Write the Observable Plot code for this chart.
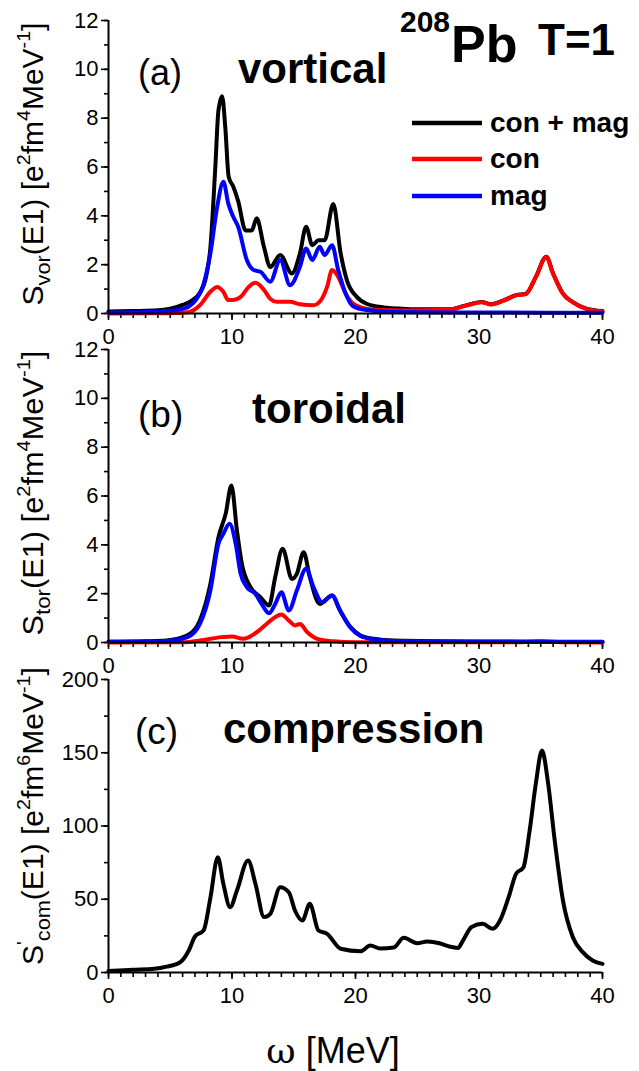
<!DOCTYPE html>
<html>
<head>
<meta charset="utf-8">
<script src="https://cdn.jsdelivr.net/npm/d3@7"></script>
<script src="https://cdn.jsdelivr.net/npm/@observablehq/plot@0.6"></script>
<style>
  html, body { margin: 0; padding: 0; background: #fff; }
  #wrap { position: relative; width: 639px; height: 1071px; overflow: hidden; font-family: "Liberation Sans", Arial, sans-serif; }
  #wrap svg { position: absolute; left: 0; }
</style>
</head>
<body>
<div id="wrap"></div>
<script>
// ---------- tick values ----------
const energyTicks = [0, 10, 20, 30, 40];
const energyMinor = d3.range(0, 41, 1);
const strengthTicks = [0, 2, 4, 6, 8, 10, 12];
const strengthMinor = d3.range(0, 13, 1);
const comTicks = [0, 50, 100, 150, 200];
const comMinor = [0, 25, 50, 75, 100, 125, 150, 175, 200];

// ---------- series colours / names ----------
const seriesNames = ["con + mag", "con", "mag"];
const seriesColors = ["#000000", "#ff0000", "#0000ff"];

// ---------- (a) vortical : [E (MeV), S] ----------
const vorTotal = [[0,0.08],[2,0.1],[4,0.13],[5,0.2],[6,0.35],[6.8,0.55],[7.4,0.85],[7.9,1.5],[8.25,2.7],[8.65,6.0],
  [8.9,8.3],[9.2,8.9],[9.46,7.6],[9.73,5.6],[10.1,5.2],[10.5,4.6],[11.1,3.4],[11.6,3.4],[12.0,3.9],[12.6,2.7],
  [13.1,1.9],[13.9,2.4],[14.85,1.64],[15.5,2.46],[16.0,3.55],[16.5,2.8],[17.0,3.0],[17.5,3.0],[18.2,4.48],[18.8,2.46],
  [19.3,1.37],[20.1,0.68],[20.9,0.4],[22.3,0.25],[23.6,0.2],[25,0.17],[27.6,0.17],[28.7,0.3],[29.3,0.38],[30.2,0.47],
  [31.0,0.38],[32.0,0.54],[33.0,0.75],[33.8,0.81],[34.6,1.5],[35.45,2.32],[36.0,1.64],[36.8,0.81],[37.6,0.47],[38.7,0.2],[40,0.1]];
const vorCon = [[0,0],[5,0.01],[6,0.03],[6.6,0.07],[7.4,0.34],[8.25,0.89],[8.8,1.09],[9.3,0.89],[9.7,0.55],[10.1,0.55],
  [10.7,0.68],[11.35,1.09],[11.9,1.26],[12.6,0.96],[13.1,0.6],[13.6,0.48],[14.7,0.48],[15.5,0.38],[16.6,0.34],[17.1,0.48],
  [17.7,1.09],[18.1,1.78],[18.6,1.5],[19.2,0.82],[19.8,0.41],[20.9,0.2],[22.3,0.14],[23.6,0.12],[27.6,0.15],[28.7,0.29],
  [29.3,0.37],[30.2,0.46],[31.0,0.37],[32.0,0.53],[33.0,0.74],[33.8,0.8],[34.6,1.49],[35.45,2.31],[36.0,1.63],[36.8,0.8],
  [37.6,0.46],[38.7,0.19],[40,0.08]];
const vorMag = [[0,0.04],[2,0.05],[4,0.08],[6.1,0.2],[7.4,0.82],[8.25,2.46],[8.8,4.37],[9.3,5.4],[9.7,4.5],[10.1,3.96],
  [10.5,3.55],[11.2,2.19],[11.75,1.78],[12.3,1.71],[13.1,1.3],[13.9,2.19],[14.7,1.16],[15.5,1.91],[16.0,2.66],[16.5,2.19],
  [17.1,2.73],[17.5,2.39],[18.1,2.8],[18.6,1.78],[19.2,0.82],[19.8,0.3],[20.9,0.14],[23,0.06],[30,0.04],[40,0.03]];

// ---------- (b) toroidal ----------
const torTotal = [[0,0.03],[3,0.05],[4.7,0.08],[6.4,0.29],[7.4,0.9],[8.25,2.4],[8.9,4.3],[9.5,5.3],[9.95,6.43],[10.4,4.59],
  [10.8,3.22],[11.5,2.27],[12.3,1.86],[13.0,1.52],[13.5,2.68],[14.1,3.84],[14.85,2.6],[15.25,2.81],[15.8,3.7],[16.3,2.68],
  [17.1,1.58],[18.1,1.92],[18.75,1.31],[19.6,0.63],[20.4,0.29],[21.5,0.15],[23.1,0.08],[30,0.04],[40,0.03]];
const torCon = [[0,0],[6,0.01],[7.4,0.08],[9.1,0.22],[10,0.25],[10.9,0.15],[12.0,0.42],[12.8,0.76],[13.5,1.04],[14.0,1.15],
  [14.6,0.9],[15.1,0.7],[15.5,0.76],[16.1,0.42],[16.9,0.15],[18.2,0.05],[20,0.01],[33,0.01],[35,0.06],[37,0.01],[40,0]];
const torMag = [[0,0.03],[3,0.04],[4.7,0.06],[6.4,0.22],[7.4,0.76],[8.25,2.13],[8.9,4.04],[9.3,4.45],[9.8,4.86],[10.3,4.04],
  [10.7,2.81],[11.2,2.27],[11.9,1.99],[12.4,1.58],[13.0,1.2],[13.5,1.58],[14.0,2.06],[14.6,1.31],[15.25,2.13],[16.0,3.02],
  [16.6,2.27],[17.3,1.65],[18.1,1.92],[18.75,1.31],[19.6,0.6],[20.4,0.27],[21.5,0.13],[23.1,0.06],[30,0.03],[40,0.02]];

// ---------- (c) compression ----------
const comTotal = [[0,1],[2,1.8],[3.7,2.5],[4.7,4],[5.8,7],[6.5,15],[7.0,24.6],[7.7,28.7],[8.25,51],[8.85,78.7],
  [9.3,60.5],[9.85,44.6],[10.4,56],[11.3,76.4],[11.9,60.5],[12.6,37.8],[13.1,40],[13.9,58.2],[14.6,54.8],[15.1,42.3],
  [15.7,35.5],[16.3,46.9],[17.0,28.7],[17.7,26.4],[18.8,16.2],[20.4,14.5],[21.2,18.4],[22.0,16.4],[23.1,17.0],[23.9,23.7],
  [25.0,20],[25.8,21.2],[26.8,20],[27.6,17.7],[28.3,16.8],[28.7,21.8],[29.4,31],[30.3,33.2],[31.1,29.8],[31.7,35.5],
  [32.4,51.4],[33.0,67.3],[33.6,71.9],[34.1,96.9],[34.6,128.8],[35.1,151.5],[35.6,128.8],[36.1,92.4],[36.8,49.1],[37.6,24.1],
  [38.4,13.9],[39.2,8.2],[40,5.9]];

const wrap = document.getElementById("wrap");
const FONT = "'Liberation Sans', Arial, sans-serif";

function panel(lines, yDomain, yMajor, yMinor, top) {
  const svg = Plot.plot({
    width: 639, height: 340,
    marginLeft: 108, marginRight: 37, marginTop: 20, marginBottom: 27,
    x: {domain: [0, 40]},
    y: {domain: yDomain},
    style: {background: "transparent", overflow: "visible", fontFamily: FONT, fontSize: "22px", color: "#000"},
    marks: [
      Plot.axisX({ticks: energyMinor, tickSize: 5, tickFormat: () => "", label: null, strokeWidth: 1.6}),
      Plot.axisX({ticks: energyTicks, tickSize: 7, tickPadding: 8, label: null, strokeWidth: 1.6}),
      Plot.axisY({ticks: yMinor, tickSize: 4, tickFormat: () => "", label: null, strokeWidth: 1.6}),
      Plot.axisY({ticks: yMajor, tickSize: 7, tickPadding: 3, label: null, strokeWidth: 1.6}),
      ...lines.map(([data, color]) => Plot.line(data, {
        x: d => d[0], y: d => d[1], stroke: color, strokeWidth: 4, curve: "monotone-x", strokeLinejoin: "round"
      })),
      Plot.ruleY([yDomain[0]], {stroke: "#000", strokeWidth: 2}),
      Plot.ruleX([0], {stroke: "#000", strokeWidth: 2})
    ]
  });
  svg.style.top = top + "px";
  wrap.appendChild(svg);
}

panel([[vorTotal, seriesColors[0]], [vorCon, seriesColors[1]], [vorMag, seriesColors[2]]], [0, 12], strengthTicks, strengthMinor, 0);
panel([[torTotal, seriesColors[0]], [torCon, seriesColors[1]], [torMag, seriesColors[2]]], [0, 12], strengthTicks, strengthMinor, 329);
panel([[comTotal, seriesColors[0]]], [0, 200], comTicks, comMinor, 659);

// ---------- annotation overlay ----------
const ov = d3.select(wrap).append("svg")
  .attr("width", 639).attr("height", 1071)
  .style("top", "0px").style("pointer-events", "none")
  .style("font-family", FONT);

function txt(x, y, s, size, weight, anchor) {
  return ov.append("text").attr("x", x).attr("y", y).attr("font-size", size)
    .attr("font-weight", weight || "normal").attr("text-anchor", anchor || "start").attr("fill", "#000").text(s);
}

txt(138, 85, "(a)", 36);
txt(238, 83, "vortical", 42, "bold");
txt(138, 427, "(b)", 37);
txt(252, 423, "toroidal", 42, "bold");
txt(135, 744, "(c)", 37);
txt(223, 743, "compression", 42, "bold");

txt(400, 32, "208", 30, "bold");
txt(451, 62, "Pb", 52, "bold");
txt(538, 55, "T=1", 44, "bold");

// legend
const legendY = [123, 159, 196];
seriesNames.forEach((name, i) => {
  ov.append("line").attr("x1", 412).attr("x2", 482).attr("y1", legendY[i]).attr("y2", legendY[i])
    .attr("stroke", seriesColors[i]).attr("stroke-width", 4.5);
  txt(490, legendY[i] + 9, name, 28, "bold");
});

// x label
const xl = ov.append("text").attr("x", 333).attr("y", 1063).attr("font-size", 36).attr("text-anchor", "middle").attr("fill", "#000");
xl.append("tspan").attr("font-family", "'DejaVu Serif', 'Liberation Serif', serif").text("ω");
xl.append("tspan").text(" [MeV]");

// y labels
function ylabel(cx, cy, len, parts) {
  const g = ov.append("g");
  const t = g.append("text").attr("font-size", 29).attr("fill", "#000").attr("x", 0).attr("y", 0);
  let shift = 0;
  parts.forEach(([s, kind]) => {
    const sp = t.append("tspan").text(s);
    const target = kind === "sub" ? 7 : kind === "sup" ? -13 : 0;
    if (kind === "sub") sp.attr("font-size", 21);
    else if (kind === "sup") sp.attr("font-size", 19);
    sp.attr("dy", target - shift);
    shift = target;
  });
  const nat = t.node().getComputedTextLength();
  const k = len / nat;
  t.attr("x", -nat / 2);
  g.attr("transform", `translate(${cx},${cy}) rotate(-90) scale(${k},1)`);
}
const yLabelVor = [["S",""],["vor","sub"],["(E1) [e",""],["2","sup"],["fm",""],["4","sup"],["MeV",""],["-1","sup"],["]",""]];
const yLabelTor = [["S",""],["tor","sub"],["(E1) [e",""],["2","sup"],["fm",""],["4","sup"],["MeV",""],["-1","sup"],["]",""]];
const yLabelCom = [["S",""],["'","sup"],["com","sub"],["(E1) [e",""],["2","sup"],["fm",""],["6","sup"],["MeV",""],["-1","sup"],["]",""]];
ylabel(43, 164, 283, yLabelVor);
ylabel(43, 493, 285, yLabelTor);
ylabel(43, 816, 298, yLabelCom);
</script>
</body>
</html>
